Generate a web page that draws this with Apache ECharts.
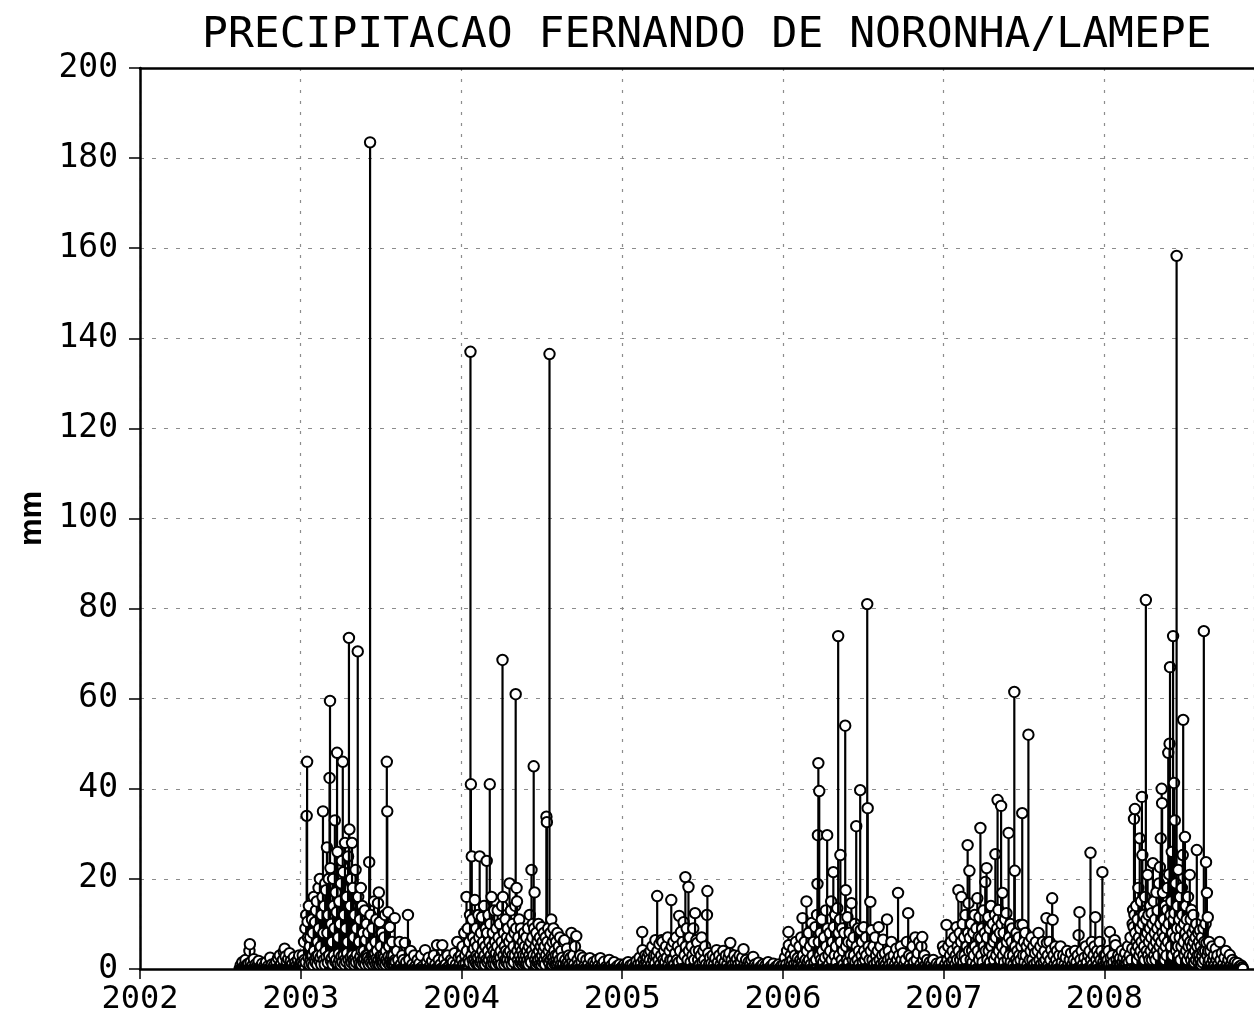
<!DOCTYPE html>
<html>
<head>
<meta charset="utf-8">
<script src="https://cdn.jsdelivr.net/npm/echarts@6/dist/echarts.min.js"></script>
<style>
  html, body { margin: 0; padding: 0; background: #fff; }
  #main { width: 1254px; height: 1017px; }
</style>
</head>
<body>
<div id="main"></div>
<script>
// daily rainfall (mm) as [day of year, mm]; days not listed were dry
var recordStart = [2002, 227];
var recordEnd = [2008, 316];

var rain2002 = [[229,0.8],[233,1.5],[236,0.5],[240,2],[244,1],[247,1.2],[249,4],[250,5.5],[252,1.5],[256,0.8],[259,2.2],[263,1],[266,0.6],[270,1.8],[274,0.5],[278,1.2],[283,0.7],[287,1.5],[291,0.6],[296,2.5],[300,1],[305,0.8],[310,1.6],[314,2.4],[318,3],[321,1.2],[325,2],[327,3.8],[329,4.5],[331,2.8],[334,1.5],[337,2.2],[340,3.5],[343,1.8],[346,1],[350,2.6],[353,1.4],[356,0.8],[359,2],[362,3],[364,1.2]];

var rain2003 = [[1,0.8],[3,1.5],[5,3],[6,1],[8,6],[9,2],[11,9],[12,1.5],[13,12],[14,34],[15,46],[16,10.5],[17,7],[18,2.5],[19,14],[20,1],[21,5],[22,7],[23,2],[24,3],[25,1.2],[26,11],[27,3],[28,8],[29,0.8],[30,16],[31,4],[32,2],[33,10.4],[34,1.5],[35,13],[36,2.8],[37,15],[38,1],[39,6],[40,3],[41,18],[42,9],[43,1.8],[44,20],[45,2.5],[46,5],[47,1],[48,12],[49,3.2],[50,16],[51,35],[52,8],[53,2],[54,14],[55,1],[56,19],[57,4],[58,17.5],[59,2.6],[60,27],[61,8],[62,1.4],[63,12],[64,20],[65,3],[66,42.4],[67,59.5],[68,22.4],[69,1.8],[70,10],[71,2.4],[72,6],[73,1],[74,20],[75,14],[76,3],[77,9],[78,33],[79,1.6],[80,17],[81,2],[82,12.6],[83,48],[84,26],[85,1.2],[86,7],[87,3.4],[88,15],[89,2],[90,10],[91,1],[92,19],[93,2.8],[94,24],[95,1.5],[96,46],[97,21.5],[98,3],[99,12],[100,1],[101,28],[102,2.2],[103,9],[104,1.6],[105,16],[106,3.5],[107,6],[108,25],[109,2],[110,73.5],[111,31],[112,1],[113,14],[114,2.6],[115,20],[116,1.4],[117,28],[118,3],[119,18],[120,2],[121,7],[122,1],[123,12],[124,2.4],[125,22],[126,1.5],[127,9],[128,3.2],[129,16],[130,70.5],[131,16],[132,2],[133,6],[134,1.2],[135,11],[136,2.8],[137,18],[138,1],[139,4],[140,14],[141,2],[142,8],[143,1.5],[144,4],[145,2.2],[146,13],[147,1],[148,6.4],[149,3],[150,10],[151,1.8],[152,3],[153,2.5],[154,8],[155,1],[156,23.7],[157,2],[158,183.5],[159,12],[160,1.4],[161,5],[162,3],[163,9],[164,1],[165,3],[166,2],[167,15],[168,1.6],[169,3.5],[170,6],[171,1],[172,11],[173,2.4],[174,4],[175,1.2],[176,14.6],[177,2],[178,17],[179,1],[180,10.4],[181,2.8],[182,5],[183,1.5],[184,3],[185,8],[186,1],[187,2],[188,3],[189,1.4],[190,7],[191,2.6],[192,12],[193,1],[194,4],[195,2],[196,46],[197,35],[198,1.5],[199,12.6],[200,2.8],[201,5],[202,1],[203,9.3],[204,2],[205,2],[206,1.2],[207,3],[208,6],[209,1],[210,2],[211,3],[212,1.5],[213,0.8],[214,11.3],[215,2],[216,1.5],[219,4],[222,2],[225,6],[228,1],[231,3],[234,2],[237,5.8],[240,1.5],[244,12],[247,2],[250,4],[254,1],[258,3],[262,0.8],[266,2],[270,1.2],[274,3],[278,0.6],[283,4.2],[287,1.5],[291,2.5],[295,0.8],[299,1.8],[303,3],[306,1],[310,5.3],[314,2],[318,1],[322,5.3],[326,2.2],[330,1],[334,3],[338,0.7],[342,2],[346,1.5],[350,3.5],[353,1],[356,6],[359,2.5],[362,1.2],[364,3]];

var rain2004 = [[1,2],[3,5],[5,1],[7,8],[9,3],[10,1.2],[12,16],[13,4],[15,9],[16,2],[18,6],[19,1.5],[20,12],[21,137],[22,41],[23,3],[24,25],[25,11],[26,2],[27,7],[28,1],[29,4.5],[30,2],[31,15.3],[32,6],[33,1.4],[34,9],[35,3],[36,1],[37,5],[38,2.5],[39,12],[40,1],[41,7],[42,25],[43,3],[44,1.5],[45,8],[46,2],[47,11.5],[48,4],[49,1],[50,6],[51,2.2],[52,14],[53,3],[54,1],[55,5],[56,9],[57,2],[58,24],[59,8],[60,1.5],[61,4],[62,12],[63,2],[64,6],[65,41],[66,10],[67,3],[68,1],[69,16],[70,5],[71,2],[72,8],[73,1.2],[74,4],[75,13],[76,2],[77,6],[78,1],[79,3.5],[80,9],[81,2],[82,5],[83,13],[84,1.5],[85,7],[86,3],[87,1],[88,10],[89,2.5],[90,4],[91,1],[92,6],[93,14],[94,68.6],[95,16],[96,3],[97,8],[98,1],[99,5],[100,2],[101,11],[102,4],[103,1.5],[104,7],[105,2],[106,9],[107,3.5],[108,1],[109,6],[110,19],[111,4],[112,2],[113,13],[114,7],[115,1],[116,3],[117,10],[118,2],[119,5],[120,1.5],[121,8],[122,3],[123,14],[124,61],[125,9],[126,18],[127,15],[128,4],[129,2],[130,7],[131,1],[132,11],[133,3],[134,5],[135,1.5],[136,9],[137,2],[138,4],[139,1],[140,6],[141,3],[142,1.5],[143,8],[144,2],[145,5],[146,1],[147,3],[148,7],[149,1.2],[150,4],[151,2],[152,9],[153,1],[154,5],[155,3],[156,12],[157,2],[158,6],[159,1.5],[160,22],[161,4],[162,7],[163,10],[164,3],[165,45],[166,9],[167,17],[168,2],[169,5],[170,1],[171,8],[172,3],[173,1.5],[174,6],[175,2],[176,10],[177,4],[178,1],[179,7],[180,2.5],[181,5],[182,1],[183,9.3],[184,3],[185,6],[186,1.5],[187,4],[188,8],[189,2],[190,5],[191,1],[192,7],[193,3],[194,33.8],[195,32.6],[196,6],[197,2],[198,9],[199,4],[200,1.5],[201,136.5],[202,5],[203,8],[204,2],[205,11],[206,3],[207,1],[208,6],[209,2.5],[210,9],[211,1.5],[212,4],[213,7],[214,1],[215,3],[216,6],[217,2],[218,1],[219,8],[220,3],[221,1.5],[222,5],[224,2],[225,7],[227,1],[228,4],[230,2.5],[232,1],[233,6],[235,6.4],[237,2],[239,1],[241,4.5],[243,1.5],[245,3],[247,1],[249,2.5],[251,8],[253,1.5],[255,3],[257,1],[259,5],[262,7.3],[265,2],[268,1],[271,3],[274,1.5],[277,2.5],[281,0.8],[285,2],[289,1],[293,2.4],[297,0.6],[301,1.5],[305,1],[309,2],[313,0.8],[317,2.4],[321,1],[325,1.6],[330,0.5],[337,2],[342,0.8],[348,1.5],[355,0.6],[361,1]];

var rain2005 = [[1,0.5],[5,1],[9,0.6],[14,1.5],[19,0.8],[24,1],[29,0.5],[33,1.8],[37,1],[40,2.5],[43,1.2],[46,8.2],[47,4.2],[49,2],[51,1],[53,3],[55,1.5],[57,2.6],[59,1],[61,3.5],[63,2],[65,4],[67,1],[69,5],[71,2],[73,3],[75,1.2],[76,6.4],[78,3],[80,16.2],[81,4],[83,2],[85,5.5],[87,1],[89,3],[90,6.4],[92,6],[94,2],[96,4],[98,1.5],[100,5],[102,2.5],[104,7],[106,1],[108,4],[110,2],[112,15.3],[113,5],[115,2],[117,6],[119,1],[121,3.5],[123,7],[125,2],[127,5],[129,1.5],[130,11.8],[132,4],[134,8.2],[136,2],[138,6],[140,10.4],[142,3],[144,20.4],[145,5],[147,9],[149,2],[151,18.2],[152,4],[154,7],[156,1.5],[158,5],[160,3],[162,9],[164,2],[166,12.4],[167,4],[169,6.4],[171,5.8],[173,2],[175,4],[177,1],[179,3],[181,7],[183,1.5],[185,4],[187,2],[189,5],[191,1],[193,12],[194,17.3],[196,3.5],[198,1],[200,2.5],[203,1.2],[206,3],[209,1],[212,2.4],[215,4.2],[218,1.5],[221,3],[224,1],[227,2.2],[230,4],[233,1.5],[236,3],[239,1],[242,2.5],[244,3.5],[246,5.8],[249,2],[252,1],[255,3],[258,1.5],[261,2.2],[264,1],[267,3],[270,1.5],[273,2.5],[276,4.4],[279,1.2],[282,2],[285,0.8],[288,1.6],[291,1],[294,2],[298,2.7],[302,1],[306,0.6],[310,1.4],[315,0.5],[320,1],[326,0.8],[332,1.5],[338,0.6],[344,1.2],[350,0.5],[356,1],[362,0.7]];

var rain2006 = [[2,1],[5,2.5],[8,1],[10,4],[13,8.2],[14,5.3],[16,1.5],[18,3],[20,1],[22,2],[24,4.5],[26,1],[28,3],[30,6],[32,1.5],[34,2.4],[36,1],[38,5],[40,2],[42,7],[44,1.5],[45,11.3],[46,3],[48,1],[50,6],[52,2],[54,15],[55,4],[57,1.5],[59,8],[60,2],[62,5],[64,1],[66,10.2],[68,3],[70,6],[72,1.5],[74,9.3],[76,2],[78,12],[79,18.9],[80,29.7],[81,45.7],[82,6],[83,39.5],[84,3],[86,8],[87,2],[89,11],[90,4],[92,1.5],[94,7],[96,2.5],[98,13],[99,5],[101,29.7],[102,9],[104,3],[105,1],[107,8],[108,4],[110,15],[111,2],[113,6],[115,21.5],[116,9.3],[118,3],[119,12],[121,5],[122,1.5],[124,13.5],[126,73.9],[127,8],[128,3],[130,11],[131,25.3],[132,6],[134,2],[135,9],[137,4],[138,1],[140,8],[142,54],[143,17.5],[144,5],[146,2],[147,11.5],[149,6],[150,1.5],[152,8],[154,3],[156,14.6],[157,5.8],[159,2],[161,7],[162,3],[164,10],[165,1.5],[167,31.7],[168,5],[170,2],[171,9],[173,4],[174,1],[176,39.7],[177,8.6],[179,3],[180,6],[182,1.5],[184,9.3],[185,4],[187,2],[189,7],[190,3],[192,81],[193,35.7],[195,5],[197,2],[199,14.9],[200,4],[202,8.6],[204,2],[206,5],[208,1],[210,7],[212,3],[214,1.5],[216,4],[218,9.3],[220,2],[222,5],[224,1],[226,3],[228,6.5],[230,1.5],[232,3.5],[234,1],[237,11],[239,2],[241,4],[243,1],[245,2.5],[247,6],[249,1.5],[252,3],[255,1],[258,4.5],[260,2],[262,16.9],[264,3],[266,1],[268,5],[270,2],[273,3.5],[276,1],[279,2],[282,6],[285,12.4],[287,3],[289,1],[292,2.5],[295,5],[298,1.5],[301,7],[304,2],[307,3.5],[310,6],[313,1],[315,5],[317,7.1],[319,2],[322,3],[325,1],[328,2],[331,0.8],[334,1.5],[338,1],[342,2],[346,0.6],[350,1.2],[355,0.8],[360,1.5],[364,5]];

var rain2007 = [[2,4],[4,1],[7,9.8],[9,2],[11,5],[13,1],[15,3],[17,6],[19,1.5],[21,4],[23,2],[25,7],[27,1],[28,3],[30,9.3],[31,2],[32,5],[34,17.5],[35,4],[37,8],[38,2],[40,6],[41,16],[42,3],[44,10],[45,1.5],[47,7],[48,3],[50,12],[51,2],[53,5],[55,27.5],[56,8],[57,14.6],[58,4],[59,21.8],[60,6.9],[62,2],[63,10],[65,4],[66,1.5],[68,8],[69,3],[71,12],[72,5],[74,1],[75,9],[77,15.7],[78,4],[80,7.1],[81,2],[82,11.5],[84,31.3],[85,6.9],[86,3],[88,9],[89,1.5],[91,13],[92,5],[94,8],[95,19.3],[96,4],[98,22.4],[99,7],[100,2],[102,11.5],[103,4],[105,9],[106,1.5],[108,14],[109,5],[111,3],[112,10],[114,6],[115,2],[117,12],[118,25.5],[119,7],[120,3],[122,9],[123,37.5],[124,11],[125,13.1],[126,4],[128,8],[129,2],[131,36.2],[132,10],[133,5],[134,16.9],[135,3],[137,8],[138,1.5],[140,11],[141,4],[143,12.4],[144,6],[146,2],[148,30.2],[149,7],[150,3],[152,10],[153,1.5],[155,6],[156,9],[158,3],[159,1],[161,61.5],[162,21.8],[163,5],[165,2],[166,8],[168,4],[169,1.5],[171,7],[172,3],[174,9.8],[175,2],[177,5],[179,34.6],[180,9.8],[181,3],[183,6],[184,1.5],[186,8],[187,3],[189,5],[191,1],[193,52],[194,6],[196,2],[198,4],[200,7],[202,2],[204,5],[206,1],[208,3.5],[210,6],[212,1.5],[214,4],[216,8],[218,2],[220,5],[222,1],[224,3],[226,6],[228,1.5],[230,4],[232,2],[234,11.3],[235,5.8],[237,3],[239,1],[241,6],[243,2],[245,4.2],[247,15.7],[248,10.9],[250,3],[252,1],[254,5],[256,2],[258,4],[260,1],[263,3],[266,5],[269,1.5],[272,3],[275,1],[278,2.5],[281,4],[284,1],[287,2],[290,3.5],[293,1],[296,2],[299,4],[302,1.5],[305,3],[307,7.5],[309,12.6],[311,2],[314,4],[317,1],[320,2.5],[323,5],[326,1.5],[329,3],[332,4],[334,25.8],[335,2],[337,6],[339,1],[341,3],[343,5],[345,11.5],[347,2],[349,4],[351,1],[353,3],[355,6],[357,2],[359,4],[361,21.5],[363,1.5],[365,3]];

var rain2008 = [[2,1],[4,3],[6,1.5],[8,2],[10,4],[12,1],[13,8.2],[15,2.5],[17,1],[19,3],[21,1.5],[24,6.4],[26,5.3],[28,2],[30,1],[32,3],[34,1.5],[36,2.4],[38,1],[40,4],[42,1.5],[44,2.5],[46,1],[48,3.5],[50,1.2],[52,2],[54,5],[56,1.5],[58,3],[60,7],[62,2],[64,4.5],[65,10],[66,13.1],[67,9.3],[68,33.3],[69,12],[70,35.5],[71,8],[72,4],[73,14],[74,6],[75,2],[76,11],[77,5],[78,18],[79,7],[80,3],[81,29],[82,9],[83,4],[84,15],[85,6],[86,38.2],[87,25.3],[88,10],[89,3],[90,12],[91,5],[92,2],[93,16],[94,7],[95,81.9],[96,11],[97,4],[98,8],[99,20.9],[100,3],[101,12],[102,6],[103,2],[104,9],[105,14],[106,4],[107,7],[108,12.4],[109,2],[110,10],[111,23.5],[112,5],[113,15],[114,3],[115,8],[116,11],[117,2],[118,6],[119,17],[120,4],[121,9],[122,13],[123,3],[124,7],[125,19],[126,5],[127,22.6],[128,10],[129,29],[130,6],[131,40],[132,36.8],[133,8],[134,16.9],[135,4],[136,11],[137,7],[138,2],[139,14],[140,5],[141,9],[142,3],[143,13.1],[144,18],[145,6],[146,48],[147,10],[148,21],[149,50],[150,67],[151,12],[152,5],[153,15],[154,26],[155,8],[156,3],[157,73.9],[158,11],[159,41.3],[160,12.4],[161,33],[162,7],[163,19],[164,4],[165,158.3],[166,9],[167,14],[168,5],[169,22],[170,3],[171,11],[172,7],[173,16],[174,2],[175,9],[176,5],[177,18],[178,12],[179,25.3],[180,55.3],[181,6],[182,10],[183,3],[184,29.3],[185,8],[186,14],[187,4],[188,11],[189,2],[190,7],[191,16],[192,5],[193,9],[194,3],[195,20.9],[196,6],[197,11],[198,2],[199,13.1],[200,5],[201,8],[202,3],[203,12],[204,6],[205,1.5],[206,9],[207,4],[208,7],[209,2],[210,10],[211,26.4],[212,5],[213,3],[214,8],[215,1.5],[216,6],[217,3],[218,8.6],[219,2],[220,5],[221,1],[222,7],[223,3],[224,1.5],[225,4],[226,9],[227,75],[228,6],[229,2],[230,4],[231,10],[232,23.7],[233,5.8],[234,16.9],[235,3],[236,11.5],[237,4],[238,1.5],[239,6],[240,2],[242,4],[244,1],[246,5],[248,2],[250,3],[252,1],[254,4.5],[256,2],[258,3],[260,1],[263,6],[265,2],[268,3.5],[271,1],[274,2.5],[277,4],[280,1],[283,2],[286,3.1],[289,1],[292,2],[295,0.8],[298,1.5],[301,0.6],[304,1.3],[308,0.5],[312,0.8],[315,0.4]];

var years = [2002, 2003, 2004, 2005, 2006, 2007, 2008];
var rainByYear = [rain2002, rain2003, rain2004, rain2005, rain2006, rain2007, rain2008];
var yTicks = [0, 20, 40, 60, 80, 100, 120, 140, 160, 180, 200];

function daysIn(y) { return (y % 4 === 0) ? 366 : 365; }

// daily series over the record period, dry days = 0 mm
var series = [];
years.forEach(function (y, i) {
  var lookup = {};
  rainByYear[i].forEach(function (p) { lookup[p[0]] = p[1]; });
  var first = (y === recordStart[0]) ? recordStart[1] : 1;
  var last = (y === recordEnd[0]) ? recordEnd[1] : daysIn(y);
  for (var d = first; d <= last; d++) {
    series.push([y + (d - 0.5) / daysIn(y), lookup[d] || 0]);
  }
});

var chart = echarts.init(document.getElementById('main'));

var option = {
  animation: false,
  backgroundColor: '#fff',
  title: {
    text: 'PRECIPITACAO FERNANDO DE NORONHA/LAMEPE',
    left: 197,
    top: 9,
    textStyle: { fontFamily: 'DejaVu Sans Mono', fontSize: 43, fontWeight: 'normal', color: '#000' }
  },
  grid: { left: 140, right: 0, top: 68, bottom: 48 },
  xAxis: [{
    type: 'value',
    min: 2002, max: 2008.931, interval: 1,
    axisLine: { lineStyle: { color: '#000', width: 2.5 } },
    axisTick: { length: 10, lineStyle: { color: '#000', width: 1.5 } },
    axisLabel: {
      margin: 15, color: '#000', fontFamily: 'DejaVu Sans Mono', fontSize: 32,
      showMaxLabel: false,
      formatter: function (v) { return Number.isInteger(v) ? String(v) : ''; }
    },
    splitLine: { show: true, lineStyle: { color: '#8c8c8c', width: 1.2, type: [3, 8] } }
  }, {
    // plain frame line along the top of the plot
    type: 'value', position: 'top',
    min: 2002, max: 2008.931,
    axisLine: { lineStyle: { color: '#000', width: 2.5 } },
    axisTick: { show: false }, axisLabel: { show: false }, splitLine: { show: false }
  }],
  yAxis: {
    type: 'value',
    min: yTicks[0], max: yTicks[yTicks.length - 1], interval: 20,
    name: 'mm', nameLocation: 'middle', nameRotate: 90, nameGap: 88,
    nameTextStyle: { fontFamily: 'Liberation Sans', fontSize: 31, fontWeight: 'bold', color: '#000' },
    axisLine: { show: true, lineStyle: { color: '#000', width: 2.5 } },
    axisTick: { show: true, length: 11, lineStyle: { color: '#000', width: 1.5 } },
    axisLabel: { margin: 22, color: '#000', fontFamily: 'DejaVu Sans Mono', fontSize: 33 },
    splitLine: { show: true, lineStyle: { color: '#8c8c8c', width: 1.2, type: [4, 8] } }
  },
  series: [{
    type: 'custom',
    xAxisIndex: 0,
    clip: true,
    progressive: 0,
    data: series,
    renderItem: function (params, api) {
      var x = api.value(0), v = api.value(1);
      var base = api.coord([x, 0]);
      var top = api.coord([x, v]);
      var kids = [];
      if (v > 0) {
        kids.push({
          type: 'line',
          shape: { x1: base[0], y1: base[1], x2: top[0], y2: top[1] },
          style: { stroke: '#000', lineWidth: 2.2 }
        });
      }
      kids.push({
        type: 'circle',
        shape: { cx: top[0], cy: top[1], r: 5.2 },
        style: { fill: v > 0 ? '#fff' : 'none', stroke: '#000', lineWidth: 2 }
      });
      return { type: 'group', children: kids };
    }
  }]
};

option && chart.setOption(option);
window.addEventListener('resize', chart.resize);
</script>
</body>
</html>
